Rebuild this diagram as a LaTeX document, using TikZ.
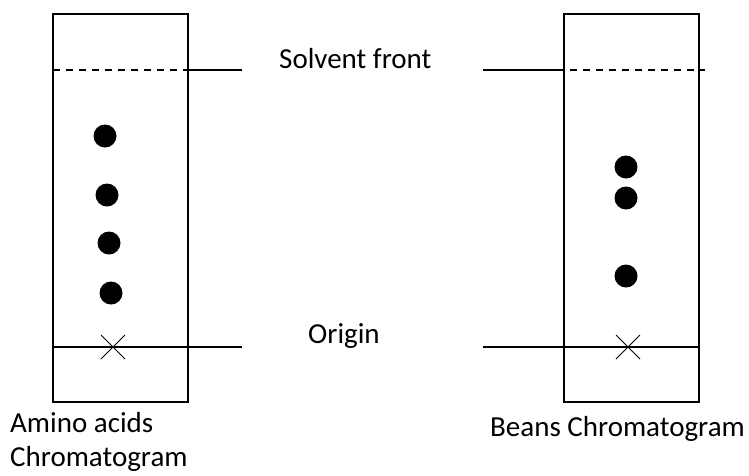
\documentclass[tikz,border=0pt]{standalone}
\usepackage{fontspec}
\setmainfont{Carlito}
\begin{document}
\begin{tikzpicture}[x=1pt,y=-1pt,
  line/.style={line width=1.3pt},
  spot/.style={circle,fill=black,inner sep=0pt,minimum size=23pt},
  lbl/.style={font=\fontsize{29}{34}\selectfont,inner sep=0pt,anchor=base west}]
\useasboundingbox (0,0) rectangle (749,475);
% plates
\draw[line] (53,14) rectangle (188,402);
\draw[line] (564,14) rectangle (699,402);
% solvent front
\coordinate (lf1) at (53,70); \coordinate (lf2) at (188,70); \coordinate (lf3) at (242,70);
\coordinate (rf1) at (483,70); \coordinate (rf2) at (564,70); \coordinate (rf3) at (705,70);
\draw[line,dash pattern=on 7pt off 6pt] (lf1) -- (lf2);
\draw[line] (lf2) -- (lf3);
\draw[line] (rf1) -- (rf2);
\draw[line,dash pattern=on 7pt off 6pt] ([xshift=6pt]rf2) -- (rf3);
% origin
\coordinate (lo1) at (52,347); \coordinate (lo3) at (242,347);
\coordinate (ro1) at (483,347); \coordinate (ro3) at (699,347);
\draw[line width=1.1pt] (lo1) -- (lo3);
\draw[line width=1.1pt] (ro1) -- (ro3);
% crosses
\coordinate (lx) at (113,347); \coordinate (rx) at (628,347);
\draw[line width=1pt] ([shift={(-12,-12)}]lx) -- ([shift={(12,12)}]lx) ([shift={(-12,12)}]lx) -- ([shift={(12,-12)}]lx);
\draw[line width=1pt] ([shift={(-12,-12)}]rx) -- ([shift={(12,12)}]rx) ([shift={(-12,12)}]rx) -- ([shift={(12,-12)}]rx);
% spots
\node[spot] (a1) at (105,136) {};
\node[spot] (a2) at (107,195) {};
\node[spot] (a3) at (109,243) {};
\node[spot] (a4) at (111,293) {};
\node[spot] (b1) at (626,167) {};
\node[spot] (b2) at (626,198) {};
\node[spot] (b3) at (626,276) {};
% labels
\node[lbl] (sf) at (279,68) {Solvent front};
\node[lbl] (or) at (308,343) {Origin};
\node[lbl] (aa) at (10,432) {Amino acids};
\node[lbl] (ch) at (10,466) {Chromatogram};
\node[lbl] (bc) at (490,436) {Beans Chromatogram};
\end{tikzpicture}
\end{document}
